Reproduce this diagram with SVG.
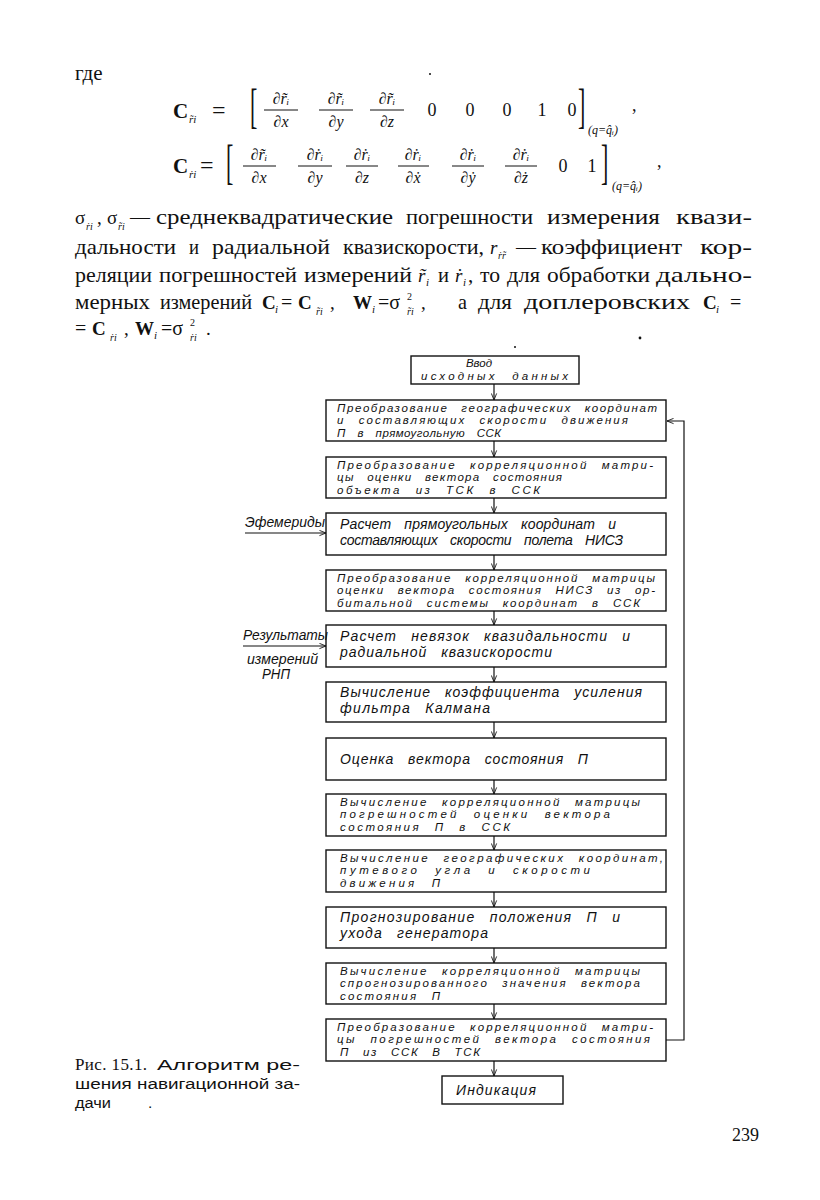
<svg xmlns="http://www.w3.org/2000/svg" width="820" height="1200" viewBox="0 0 820 1200">
<defs>
<marker id="ah" viewBox="0 0 8 8" refX="7.5" refY="4" markerWidth="7" markerHeight="7" orient="auto" markerUnits="userSpaceOnUse">
<path d="M0,1 L7.5,4 L0,7" fill="none" stroke="#111" stroke-width="1"/>
</marker>
<style>
.bx{fill:none;stroke:#111;stroke-width:1.4}
.ft{font-family:"Liberation Sans","DejaVu Sans",sans-serif;font-style:italic;font-size:14px;fill:#111;word-spacing:9px}
.f3{font-size:11.5px;word-spacing:8px}
.lab{font-family:"Liberation Sans","DejaVu Sans",sans-serif;font-style:italic;font-size:14px;fill:#111}
.body{font-family:"Liberation Serif","DejaVu Serif",serif;font-size:21px;fill:#111}
.mi{font-family:"Liberation Serif","DejaVu Serif",serif;font-style:italic;fill:#111}
.mr{font-family:"Liberation Serif","DejaVu Serif",serif;fill:#111}
.mb{font-family:"Liberation Serif","DejaVu Serif",serif;font-weight:bold;fill:#111}
.cap{font-family:"Liberation Sans","DejaVu Sans",sans-serif;font-size:15.5px;fill:#111}
.con{fill:none;stroke:#111;stroke-width:1.2}
.bar{stroke:#111;stroke-width:1}
</style>
</defs>
<rect width="820" height="1200" fill="#fff"/>

<text class="body" x="75" y="80">где</text>

<g id="formula1">
<text class="mb" x="173" y="118" font-size="21">C</text>
<text class="mi" x="189" y="123" font-size="11">r̃i</text>
<text class="mr" x="212" y="118" font-size="24">=</text>
<text class="mr" transform="translate(250,122) scale(1,2.2)" font-size="22">[</text>
<g class="mi" font-size="16" text-anchor="middle">
<text x="281" y="104">∂r̃ᵢ</text><text x="281" y="127">∂x</text>
<text x="336" y="104">∂r̃ᵢ</text><text x="336" y="127">∂y</text>
<text x="387" y="104">∂r̃ᵢ</text><text x="387" y="127">∂z</text>
</g>
<line class="bar" x1="264" y1="110" x2="298" y2="110"/>
<line class="bar" x1="319" y1="110" x2="353" y2="110"/>
<line class="bar" x1="370" y1="110" x2="404" y2="110"/>
<g class="mr" font-size="18" text-anchor="middle">
<text x="432" y="116">0</text><text x="470" y="116">0</text><text x="507" y="116">0</text><text x="542" y="116">1</text><text x="572" y="116">0</text>
</g>
<text class="mr" transform="translate(578,122) scale(1,2.2)" font-size="22">]</text>
<text class="mi" x="588" y="134" font-size="12">(q=q̂ᵢ)</text>
<text class="mr" x="632" y="111" font-size="18">,</text>
</g>

<g id="formula2">
<text class="mb" x="173" y="173" font-size="21">C</text>
<text class="mi" x="189" y="178" font-size="11">ṙi</text>
<text class="mr" x="200" y="173" font-size="24">=</text>
<text class="mr" transform="translate(226,178) scale(1,2.2)" font-size="22">[</text>
<g class="mi" font-size="16" text-anchor="middle">
<text x="259" y="160">∂r̃ᵢ</text><text x="259" y="183">∂x</text>
<text x="315" y="160">∂ṙᵢ</text><text x="315" y="183">∂y</text>
<text x="362" y="160">∂ṙᵢ</text><text x="362" y="183">∂z</text>
<text x="413" y="160">∂ṙᵢ</text><text x="413" y="183">∂ẋ</text>
<text x="468" y="160">∂ṙᵢ</text><text x="468" y="183">∂ẏ</text>
<text x="521" y="160">∂ṙᵢ</text><text x="521" y="183">∂ż</text>
</g>
<line class="bar" x1="243" y1="166" x2="276" y2="166"/>
<line class="bar" x1="298" y1="166" x2="332" y2="166"/>
<line class="bar" x1="346" y1="166" x2="378" y2="166"/>
<line class="bar" x1="398" y1="166" x2="429" y2="166"/>
<line class="bar" x1="452" y1="166" x2="484" y2="166"/>
<line class="bar" x1="505" y1="166" x2="537" y2="166"/>
<g class="mr" font-size="18" text-anchor="middle">
<text x="563" y="172">0</text><text x="592" y="172">1</text>
</g>
<text class="mr" transform="translate(601,178) scale(1,2.2)" font-size="22">]</text>
<text class="mi" x="612" y="190" font-size="12">(q=q̂ᵢ)</text>
<text class="mr" x="657" y="167" font-size="18">,</text>
</g>

<g id="paragraph">
<text class="mr" x="75" y="224" font-size="19">σ</text>
<text class="mi" x="86" y="230" font-size="10">ṙi</text>
<text class="mr" x="97" y="224" font-size="19">,</text>
<text class="mr" x="107" y="224" font-size="19">σ</text>
<text class="mi" x="118" y="230" font-size="10">r̃i</text>
<text class="body" x="130" y="224" textLength="20" lengthAdjust="spacingAndGlyphs">—</text>
<text class="body" x="156" y="224" textLength="237" lengthAdjust="spacingAndGlyphs">среднеквадратические</text>
<text class="body" x="406" y="224" textLength="127" lengthAdjust="spacingAndGlyphs">погрешности</text>
<text class="body" x="547" y="224" textLength="113" lengthAdjust="spacingAndGlyphs">измерения</text>
<text class="body" x="676" y="224" textLength="76" lengthAdjust="spacingAndGlyphs">квази-</text>

<text class="body" x="75" y="254" textLength="101" lengthAdjust="spacingAndGlyphs">дальности</text>
<text class="body" x="189" y="254" textLength="10" lengthAdjust="spacingAndGlyphs">и</text>
<text class="body" x="212" y="254" textLength="118" lengthAdjust="spacingAndGlyphs">радиальной</text>
<text class="body" x="343" y="254" textLength="141" lengthAdjust="spacingAndGlyphs">квазискорости,</text>
<text class="mi" x="490" y="254" font-size="19">r</text>
<text class="mi" x="498" y="259" font-size="10">ṙr̃</text>
<text class="body" x="516" y="254" textLength="20" lengthAdjust="spacingAndGlyphs">—</text>
<text class="body" x="541" y="254" textLength="141" lengthAdjust="spacingAndGlyphs">коэффициент</text>
<text class="body" x="700" y="254" textLength="52" lengthAdjust="spacingAndGlyphs">кор-</text>

<text class="body" x="75" y="282" textLength="77" lengthAdjust="spacingAndGlyphs">реляции</text>
<text class="body" x="159" y="282" textLength="138" lengthAdjust="spacingAndGlyphs">погрешностей</text>
<text class="body" x="304" y="282" textLength="108" lengthAdjust="spacingAndGlyphs">измерений</text>
<text class="mi" x="418" y="282" font-size="19">r̃</text>
<text class="mi" x="426" y="286" font-size="11">i</text>
<text class="body" x="438" y="282" textLength="11" lengthAdjust="spacingAndGlyphs">и</text>
<text class="mi" x="455" y="282" font-size="19">ṙ</text>
<text class="mi" x="463" y="286" font-size="11">i</text>
<text class="body" x="468" y="282">,</text>
<text class="body" x="480" y="282" textLength="20" lengthAdjust="spacingAndGlyphs">то</text>
<text class="body" x="507" y="282" textLength="33" lengthAdjust="spacingAndGlyphs">для</text>
<text class="body" x="547" y="282" textLength="103" lengthAdjust="spacingAndGlyphs">обработки</text>
<text class="body" x="656" y="282" textLength="96" lengthAdjust="spacingAndGlyphs">дально-</text>

<text class="body" x="75" y="309" textLength="75" lengthAdjust="spacingAndGlyphs">мерных</text>
<text class="body" x="160" y="309" textLength="92" lengthAdjust="spacingAndGlyphs">измерений</text>
<text class="mb" x="262" y="309" font-size="19">C</text>
<text class="mi" x="275" y="313" font-size="11">i</text>
<text class="mr" x="281" y="309" font-size="20">=</text>
<text class="mb" x="298" y="309" font-size="19">C</text>
<text class="mi" x="316" y="315" font-size="10">r̃i</text>
<text class="mr" x="330" y="309" font-size="19">,</text>
<text class="mb" x="353" y="309" font-size="19">W</text>
<text class="mi" x="372" y="313" font-size="11">i</text>
<text class="mr" x="378" y="309" font-size="20">=σ</text>
<text class="mr" x="407" y="300" font-size="10">2</text>
<text class="mi" x="407" y="315" font-size="10">r̃i</text>
<text class="mr" x="421" y="309" font-size="19">,</text>
<text class="body" x="458" y="309" textLength="9" lengthAdjust="spacingAndGlyphs">а</text>
<text class="body" x="478" y="309" textLength="34" lengthAdjust="spacingAndGlyphs">для</text>
<text class="body" x="524" y="309" textLength="166" lengthAdjust="spacingAndGlyphs">доплеровских</text>
<text class="mb" x="703" y="309" font-size="19">C</text>
<text class="mi" x="716" y="313" font-size="11">i</text>
<text class="mr" x="730" y="309" font-size="20">=</text>

<text class="mr" x="75" y="335" font-size="20">=</text>
<text class="mb" x="92" y="335" font-size="19">C</text>
<text class="mi" x="110" y="341" font-size="10">ṙi</text>
<text class="mr" x="124" y="335" font-size="19">,</text>
<text class="mb" x="135" y="335" font-size="19">W</text>
<text class="mi" x="154" y="339" font-size="11">i</text>
<text class="mr" x="161" y="335" font-size="20">=σ</text>
<text class="mr" x="190" y="326" font-size="10">2</text>
<text class="mi" x="190" y="341" font-size="10">ṙi</text>
<text class="mr" x="206" y="335" font-size="19">.</text>
</g>

<g id="connectors">
<line class="con" x1="494" y1="384" x2="494" y2="400" marker-end="url(#ah)"/>
<line class="con" x1="494" y1="441" x2="494" y2="457" marker-end="url(#ah)"/>
<line class="con" x1="494" y1="498" x2="494" y2="513" marker-end="url(#ah)"/>
<line class="con" x1="494" y1="555" x2="494" y2="570" marker-end="url(#ah)"/>
<line class="con" x1="494" y1="611" x2="494" y2="625" marker-end="url(#ah)"/>
<line class="con" x1="494" y1="667" x2="494" y2="682" marker-end="url(#ah)"/>
<line class="con" x1="494" y1="722" x2="494" y2="738" marker-end="url(#ah)"/>
<line class="con" x1="494" y1="780" x2="494" y2="794" marker-end="url(#ah)"/>
<line class="con" x1="494" y1="836" x2="494" y2="850" marker-end="url(#ah)"/>
<line class="con" x1="494" y1="892" x2="494" y2="907" marker-end="url(#ah)"/>
<line class="con" x1="494" y1="948" x2="494" y2="963" marker-end="url(#ah)"/>
<line class="con" x1="494" y1="1004" x2="494" y2="1019" marker-end="url(#ah)"/>
<line class="con" x1="494" y1="1061" x2="494" y2="1076" marker-end="url(#ah)"/>
<polyline class="con" points="666,1040 684,1040 684,421 667,421" marker-end="url(#ah)"/>
<line class="con" x1="245" y1="533" x2="326" y2="533" marker-end="url(#ah)"/>
<line class="con" x1="243" y1="646" x2="326" y2="646" marker-end="url(#ah)"/>
</g>

<g id="in-ephemeris">
<text class="lab" x="245" y="527" textLength="80" lengthAdjust="spacingAndGlyphs">Эфемериды</text>
</g>
<g id="in-results">
<text class="lab" x="243" y="640" textLength="85" lengthAdjust="spacingAndGlyphs">Результаты</text>
<text class="lab" x="247" y="664" textLength="71" lengthAdjust="spacingAndGlyphs">измерений</text>
<text class="lab" x="262" y="679" textLength="28" lengthAdjust="spacingAndGlyphs">РНП</text>
</g>

<g id="n1">
<rect class="bx" x="411" y="356" width="168" height="28"/>
<text class="ft f3" x="466" y="367" textLength="26" lengthAdjust="spacing">Ввод</text>
<text class="ft f3" x="421" y="380" textLength="147" lengthAdjust="spacing">исходных данных</text>
</g>
<g id="n2">
<rect class="bx" x="326" y="400" width="340" height="41"/>
<text class="ft f3" x="337" y="411.5" textLength="320" lengthAdjust="spacing">Преобразование географических координат</text>
<text class="ft f3" x="337" y="424" textLength="291" lengthAdjust="spacing">и составляющих скорости движения</text>
<text class="ft f3" x="337" y="436.5" textLength="164" lengthAdjust="spacing">П в прямоугольную ССК</text>
</g>
<g id="n3">
<rect class="bx" x="326" y="457" width="340" height="41"/>
<text class="ft f3" x="337" y="468.5" textLength="316" lengthAdjust="spacing">Преобразование корреляционной матри-</text>
<text class="ft f3" x="337" y="481" textLength="225" lengthAdjust="spacing">цы оценки вектора состояния</text>
<text class="ft f3" x="337" y="493.5" textLength="203" lengthAdjust="spacing">объекта из ТСК в ССК</text>
</g>
<g id="n4">
<rect class="bx" x="326" y="513" width="340" height="42"/>
<text class="ft" x="340" y="529" textLength="276" lengthAdjust="spacing">Расчет прямоугольных координат и</text>
<text class="ft" x="340" y="545" textLength="283" lengthAdjust="spacing">составляющих скорости полета НИСЗ</text>
</g>
<g id="n5">
<rect class="bx" x="326" y="570" width="340" height="41"/>
<text class="ft f3" x="337" y="581.5" textLength="318" lengthAdjust="spacing">Преобразование корреляционной матрицы</text>
<text class="ft f3" x="337" y="594" textLength="318" lengthAdjust="spacing">оценки вектора состояния НИСЗ из ор-</text>
<text class="ft f3" x="337" y="606.5" textLength="303" lengthAdjust="spacing">битальной системы координат в ССК</text>
</g>
<g id="n6">
<rect class="bx" x="326" y="625" width="340" height="42"/>
<text class="ft" x="340" y="641" textLength="290" lengthAdjust="spacing">Расчет невязок квазидальности и</text>
<text class="ft" x="340" y="657" textLength="212" lengthAdjust="spacing">радиальной квазискорости</text>
</g>
<g id="n7">
<rect class="bx" x="326" y="682" width="340" height="40"/>
<text class="ft" x="340" y="697" textLength="302" lengthAdjust="spacing">Вычисление коэффициента усиления</text>
<text class="ft" x="340" y="713" textLength="150" lengthAdjust="spacing">фильтра Калмана</text>
</g>
<g id="n8">
<rect class="bx" x="326" y="738" width="340" height="42"/>
<text class="ft" x="340" y="764" textLength="248" lengthAdjust="spacing">Оценка вектора состояния П</text>
</g>
<g id="n9">
<rect class="bx" x="326" y="794" width="340" height="42"/>
<text class="ft f3" x="340" y="805.5" textLength="300" lengthAdjust="spacing">Вычисление корреляционной матрицы</text>
<text class="ft f3" x="340" y="818" textLength="270" lengthAdjust="spacing">погрешностей оценки вектора</text>
<text class="ft f3" x="340" y="830.5" textLength="170" lengthAdjust="spacing">состояния П в ССК</text>
</g>
<g id="n10">
<rect class="bx" x="326" y="850" width="340" height="42"/>
<text class="ft f3" x="340" y="861.5" textLength="323" lengthAdjust="spacing">Вычисление географических координат,</text>
<text class="ft f3" x="340" y="874" textLength="250" lengthAdjust="spacing">путевого угла и скорости</text>
<text class="ft f3" x="340" y="886.5" textLength="100" lengthAdjust="spacing">движения П</text>
</g>
<g id="n11">
<rect class="bx" x="326" y="907" width="340" height="41"/>
<text class="ft" x="340" y="922" textLength="280" lengthAdjust="spacing">Прогнозирование положения П и</text>
<text class="ft" x="340" y="938" textLength="148" lengthAdjust="spacing">ухода генератора</text>
</g>
<g id="n12">
<rect class="bx" x="326" y="963" width="340" height="41"/>
<text class="ft f3" x="340" y="974.5" textLength="300" lengthAdjust="spacing">Вычисление корреляционной матрицы</text>
<text class="ft f3" x="340" y="987" textLength="300" lengthAdjust="spacing">спрогнозированного значения вектора</text>
<text class="ft f3" x="340" y="999.5" textLength="100" lengthAdjust="spacing">состояния П</text>
</g>
<g id="n13">
<rect class="bx" x="326" y="1019" width="340" height="42"/>
<text class="ft f3" x="337" y="1030.5" textLength="316" lengthAdjust="spacing">Преобразование корреляционной матри-</text>
<text class="ft f3" x="337" y="1043" textLength="313" lengthAdjust="spacing">цы погрешностей вектора состояния</text>
<text class="ft f3" x="340" y="1055.5" textLength="140" lengthAdjust="spacing">П из ССК В ТСК</text>
</g>
<g id="n14">
<rect class="bx" x="442" y="1076" width="121" height="28"/>
<text class="ft" x="456" y="1095" textLength="80" lengthAdjust="spacing">Индикация</text>
</g>

<g id="caption">
<text class="mr" x="75" y="1070" font-size="17" textLength="72" lengthAdjust="spacing">Рис. 15.1.</text>
<text class="cap" x="157" y="1070" textLength="143" lengthAdjust="spacingAndGlyphs">Алгоритм ре-</text>
<text class="cap" x="75" y="1089" textLength="225" lengthAdjust="spacingAndGlyphs">шения навигационной за-</text>
<text class="cap" x="75" y="1108" textLength="36" lengthAdjust="spacingAndGlyphs">дачи</text>
<text class="cap" x="148" y="1108">.</text>
</g>

<text class="mr" x="732" y="1141" font-size="18">239</text>

<g fill="#111">
<circle cx="430" cy="74" r="1"/>
<circle cx="640" cy="338" r="1.4"/>
<circle cx="515" cy="347" r="1"/>
</g>
</svg>
